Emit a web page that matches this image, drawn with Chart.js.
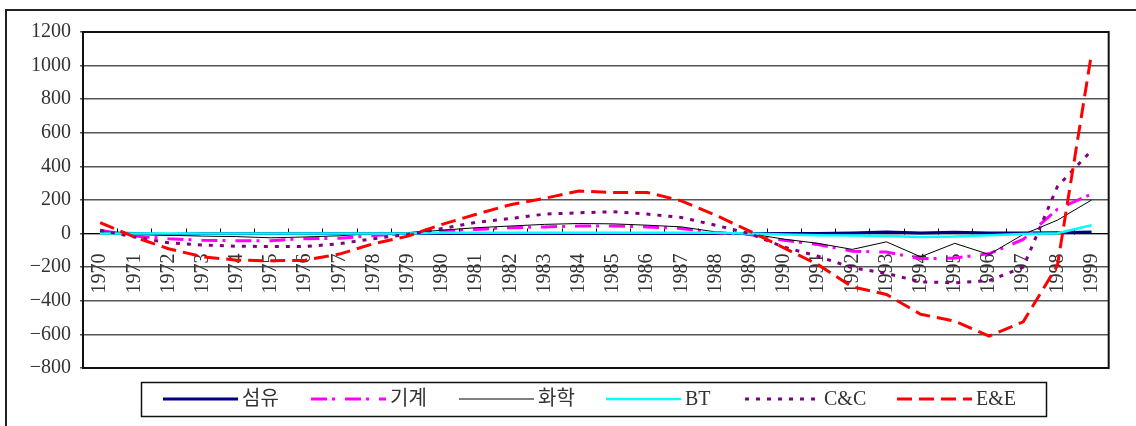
<!DOCTYPE html>
<html>
<head>
<meta charset="utf-8">
<script src="https://cdn.jsdelivr.net/npm/chart.js@4"></script>
<style>
  html, body { margin: 0; padding: 0; background: #fff; overflow: hidden; }
  #wrap { position: relative; width: 1136px; height: 426px; }
  #frame { position: absolute; left: 5px; top: 9px; width: 1200px; height: 500px;
           border-left: 2px solid #222; border-top: 2px solid #222; }
  canvas { position: absolute; left: 0; top: 0; }
</style>
</head>
<body>
<div id="wrap">
  <div id="frame"></div>
  <canvas id="chart" width="1136" height="426"></canvas>
</div>
<script>
// years on the category axis
const years = ['1970', '1971', '1972', '1973', '1974', '1975', '1976', '1977', '1978', '1979',
               '1980', '1981', '1982', '1983', '1984', '1985', '1986', '1987', '1988', '1989',
               '1990', '1991', '1992', '1993', '1994', '1995', '1996', '1997', '1998', '1999'];

// value axis range
const yMin = -800;
const yMax = 1200;
const yStep = 200;

// series, one value per year
const seomyu = [5, 0, -5, 0, 0, 0, 0, 0, 0, 0,
                0, 0, 0, 0, 0, 0, 0, 0, 0, 0,
                0, 0, 3, 10, 3, 8, 3, 3, 5, 10];
const gigye = [20, -15, -30, -40, -42, -42, -30, -28, -12, 0,
               15, 25, 35, 40, 45, 45, 40, 30, 5, -5,
               -40, -65, -105, -110, -150, -145, -120, -35, 145, 235];
const hwahak = [10, 0, -10, -15, -18, -25, -20, -13, 0, 5,
                20, 35, 45, 55, 60, 58, 50, 40, 10, 0,
                -33, -58, -94, -49, -138, -58, -124, -5, 80, 200];
const bt = [0, 0, 0, 0, 0, 0, 0, 0, 0, 0,
            5, 5, 5, 5, 5, 5, 5, 5, 5, 0,
            -5, -10, -12, -15, -20, -18, -10, -2, 2, 50];
const cc = [20, -20, -55, -68, -75, -77, -77, -60, -30, -5,
            30, 67, 90, 116, 124, 130, 116, 96, 50, 0,
            -80, -135, -203, -237, -287, -293, -280, -200, 280, 495];
const ee = [65, -20, -90, -138, -158, -162, -158, -122, -60, -15,
            55, 115, 172, 210, 253, 245, 245, 195, 110, 15,
            -85, -185, -317, -362, -480, -521, -610, -525, -190, 1075];

// where each legend entry starts
const legendX = [163, 311, 459, 606, 745, 897];

const textFont = '"Liberation Serif", "Noto Sans CJK KR", serif';

// black frame round the plot and small tick marks on the zero line
const plotFrame = {
    id: 'plotFrame',
    beforeDatasetsDraw(chart) {
        const { ctx, chartArea: a, scales: { x, y } } = chart;
        ctx.save();
        ctx.strokeStyle = '#111';
        ctx.lineWidth = 2;
        ctx.strokeRect(a.left, a.top, a.right - a.left, a.bottom - a.top);
        const y0 = Math.round(y.getPixelForValue(0)) + 0.5;
        ctx.lineWidth = 1;
        ctx.strokeStyle = '#000';
        ctx.beginPath();
        for (let i = 1; i < years.length; i++) {
            const px = Math.round((x.getPixelForValue(i - 1) + x.getPixelForValue(i)) / 2) + 0.5;
            ctx.moveTo(px, y0);
            ctx.lineTo(px, y0 - 6);
        }
        ctx.stroke();
        ctx.restore();
    }
};

// boxed legend in one row under the plot
const boxLegend = {
    id: 'boxLegend',
    afterDraw(chart) {
        const ctx = chart.ctx;
        ctx.save();
        ctx.strokeStyle = '#111';
        ctx.lineWidth = 1.5;
        ctx.strokeRect(141.5, 382.5, 905, 34);
        chart.data.datasets.forEach((ds, i) => {
            const lx = legendX[i];
            const ly = 399;
            ctx.beginPath();
            ctx.setLineDash(ds.borderDash || []);
            ctx.strokeStyle = ds.borderColor;
            ctx.lineWidth = ds.borderWidth;
            ctx.moveTo(lx, ly);
            ctx.lineTo(lx + 75, ly);
            ctx.stroke();
            ctx.setLineDash([]);
            ctx.fillStyle = '#333';
            ctx.font = '20px ' + textFont;
            ctx.textBaseline = 'middle';
            ctx.fillText(ds.label, lx + 79, ly + 1);
        });
        ctx.restore();
    }
};

function series(label, data, color, width, dash, order) {
    return {
        label: label,
        data: data,
        borderColor: color,
        backgroundColor: color,
        borderWidth: width,
        borderDash: dash,
        pointRadius: 0,
        tension: 0,
        fill: false,
        order: order
    };
}

new Chart(document.getElementById('chart').getContext('2d'), {
    type: 'line',
    data: {
        labels: years,
        datasets: [
            series('섬유', seomyu, '#000080', 3, [], 6),
            series('기계', gigye, '#ff00ff', 3, [16, 5, 3, 10], 5),
            series('화학', hwahak, '#000000', 1, [], 4),
            series('BT', bt, '#00ffff', 2.5, [], 3),
            series('C&C', cc, '#800080', 3, [4, 7], 2),
            series('E&E', ee, '#ff0000', 3, [15, 7], 1)
        ]
    },
    options: {
        responsive: false,
        devicePixelRatio: 1,
        animation: false,
        layout: { padding: { top: 32, right: 25, bottom: 58, left: 0 } },
        plugins: {
            legend: { display: false },
            tooltip: { enabled: false }
        },
        scales: {
            x: {
                position: { y: 0 },
                offset: true,
                grid: { display: true, drawOnChartArea: false, drawTicks: false },
                border: { display: true, color: '#000', width: 1 },
                ticks: {
                    minRotation: 90,
                    maxRotation: 90,
                    autoSkip: false,
                    padding: 20,
                    color: '#333',
                    font: { family: textFont, size: 20 }
                }
            },
            y: {
                min: yMin,
                max: yMax,
                ticks: {
                    stepSize: yStep,
                    padding: 9,
                    color: '#333',
                    font: { family: textFont, size: 20 },
                    // plain integers, with a real minus sign
                    callback: v => (v < 0 ? '\u2212' + Math.abs(v) : String(v))
                },
                grid: { color: '#555', lineWidth: 1.5, tickLength: 3 },
                border: { display: true, color: '#111', width: 2 },
                afterFit(scale) { scale.width = 83; }
            }
        }
    },
    plugins: [plotFrame, boxLegend]
});
</script>
</body>
</html>
